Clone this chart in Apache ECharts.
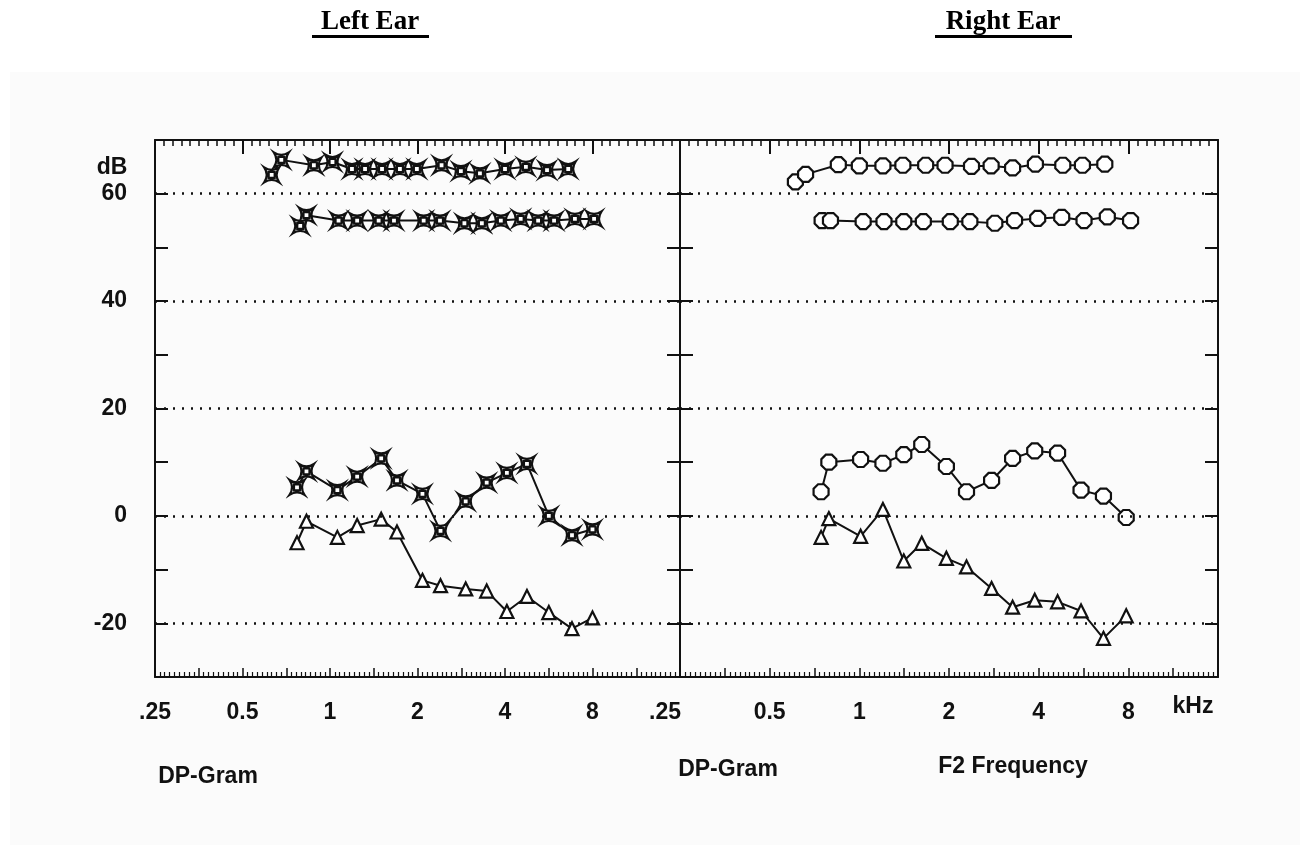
<!DOCTYPE html>
<html>
<head>
<meta charset="utf-8">
<script src="https://cdn.jsdelivr.net/npm/echarts@6/dist/echarts.min.js"></script>
<style>html,body{margin:0;padding:0;background:#fff}#main{width:1308px;height:867px}</style>
</head>
<body>
<div id="main"></div>
<script>
// 刻度
var yTicks = [60, 40, 20, 0, -20];
var xTickValues = [0.25, 0.5, 1, 2, 4, 8];
var xTickLabels = ['.25', '0.5', '1', '2', '4', '8'];

// Left ear (kHz / dB)
var leftL1Freq = [0.63, 0.68, 0.88, 1.02, 1.19, 1.32, 1.51, 1.74, 1.99, 2.42, 2.82, 3.28, 4.0, 4.72, 5.58, 6.6];
var leftL1 = [63.5, 66.3, 65.3, 65.9, 64.6, 64.6, 64.6, 64.6, 64.6, 65.3, 64.2, 63.8, 64.6, 65, 64.4, 64.6];
var leftL2Freq = [0.79, 0.83, 1.07, 1.24, 1.47, 1.66, 2.1, 2.39, 2.9, 3.33, 3.87, 4.53, 5.2, 5.9, 6.96, 8.1];
var leftL2 = [54, 56, 55, 55, 55, 55, 55, 55, 54.5, 54.5, 55, 55.3, 55, 55, 55.3, 55.3];
var leftDPFreq = [0.77, 0.83, 1.06, 1.24, 1.5, 1.7, 2.08, 2.4, 2.93, 3.46, 4.06, 4.76, 5.66, 6.8, 8.0];
var leftDP = [5.3, 8.3, 4.8, 7.3, 10.7, 6.6, 4.1, -2.8, 2.7, 6.2, 8.0, 9.7, 0, -3.6, -2.5];
var leftNF = [-5, -1, -4, -1.8, -0.6, -3, -12, -13, -13.6, -14, -17.8, -15, -18, -21, -19];

// Right ear
var rightL1Freq = [0.61, 0.66, 0.85, 1.0, 1.2, 1.4, 1.67, 1.94, 2.38, 2.77, 3.27, 3.9, 4.82, 5.61, 6.67];
var rightL1 = [62.2, 63.6, 65.4, 65.2, 65.2, 65.3, 65.3, 65.3, 65.1, 65.2, 64.8, 65.5, 65.3, 65.3, 65.5];
var rightL2Freq = [0.75, 0.8, 1.03, 1.21, 1.41, 1.64, 2.02, 2.35, 2.85, 3.32, 3.97, 4.78, 5.68, 6.8, 8.14];
var rightL2 = [55, 55, 54.8, 54.8, 54.8, 54.8, 54.8, 54.8, 54.5, 55, 55.4, 55.6, 55, 55.7, 55];
var rightDPFreq = [0.744, 0.79, 1.01, 1.2, 1.41, 1.62, 1.96, 2.29, 2.78, 3.27, 3.88, 4.63, 5.55, 6.6, 7.87];
var rightDP = [4.5, 10, 10.5, 9.8, 11.4, 13.3, 9.2, 4.5, 6.6, 10.7, 12.1, 11.7, 4.8, 3.7, -0.3];
var rightNF = [-4.0, -0.5, -3.8, 1.2, -8.4, -5.1, -7.9, -9.5, -13.5, -17, -15.7, -16, -17.7, -22.8, -18.6];

var FONT = "'Liberation Sans Narrow','Liberation Sans',Arial,sans-serif";
var FS = 23;
var INK = '#111';
var starSq = 'path://M0,0Q5,3.4 10,0Q6.6,5 10,10Q5,6.6 0,10Q3.4,5 0,0ZM3,3H7V7H3Z';
var octo = 'path://M3,0H7L10,3V7L7,10H3L0,7V3Z';

function pairs(f, v) {
	return f.map(function (x, i) { return [x, v[i]]; });
}

function xLabel(shiftFirst) {
	return {
		margin: 24,
		fontSize: FS, fontWeight: 'bold', fontFamily: FONT, color: INK,
		formatter: function (v) {
			for (var i = 0; i < xTickValues.length; i++) {
				if (Math.abs(xTickValues[i] - v) < 1e-6) {
					if (i === 0 && shiftFirst) return '{s|' + xTickLabels[i] + '}';
					return xTickLabels[i];
				}
			}
			return '';
		},
		rich: { s: { fontSize: FS, fontWeight: 'bold', fontFamily: FONT, color: INK, padding: [0, 30, 0, 0] } }
	};
}

function xAxes(g) {
	var line = { onZero: false, lineStyle: { color: INK, width: 2 } };
	return [
		// 数据用对数轴
		{ type: 'log', logBase: 2, min: 0.25, max: 16, gridIndex: g, position: 'bottom',
		  axisLine: line, axisTick: { show: false }, splitLine: { show: false },
		  axisLabel: xLabel(g === 1) },
		// 上方刻度
		{ type: 'value', min: -2, max: 4, interval: 1, gridIndex: g, position: 'top',
		  axisLine: line, axisLabel: { show: false }, splitLine: { show: false },
		  axisTick: { inside: true, length: 14, lineStyle: { color: INK, width: 2 } },
		  minorTick: { show: true, splitNumber: 10, length: 6, lineStyle: { color: INK, width: 1.5 } } },
		// 下方刻度
		{ type: 'value', min: -2, max: 4, interval: 0.5, gridIndex: g, position: 'bottom',
		  axisLine: { show: false, onZero: false }, axisLabel: { show: false }, splitLine: { show: false },
		  axisTick: { inside: true, length: 9, lineStyle: { color: INK, width: 1.5 } },
		  minorTick: { show: true, splitNumber: 9, length: 5, lineStyle: { color: INK, width: 1.2 } } }
	];
}

function yAxes(g) {
	var base = {
		type: 'value', min: -30, max: 70, interval: 10, gridIndex: g,
		axisLine: { show: true, onZero: false, lineStyle: { color: INK, width: 2 } },
		axisTick: { show: true, inside: true, length: 13, lineStyle: { color: INK, width: 2 } },
		splitLine: { show: false }
	};
	var left = Object.assign({}, base, { position: 'left',
		axisLabel: g === 0 ? {
			margin: 28, fontSize: FS, fontWeight: 'bold', fontFamily: FONT, color: INK,
			formatter: function (v) { return yTicks.indexOf(v) >= 0 ? String(v) : ''; }
		} : { show: false } });
	var right = Object.assign({}, base, { position: 'right', axisLabel: { show: false } });
	return [left, right];
}

var gridLines = {
	silent: true, symbol: 'none', label: { show: false },
	lineStyle: { color: INK, type: [2, 7], width: 2.5 },
	emphasis: { disabled: true },
	data: yTicks.map(function (v) { return { yAxis: v }; })
};

function line(name, data, xi, yi, symbol, size, withGrid) {
	var s = {
		name: name, type: 'line', xAxisIndex: xi, yAxisIndex: yi,
		data: data, symbol: symbol, symbolSize: size, showAllSymbol: true,
		lineStyle: { color: INK, width: 2 },
		itemStyle: { color: '#fff', borderColor: INK, borderWidth: 2.2 },
		emphasis: { disabled: true }
	};
	if (withGrid) s.markLine = gridLines;
	return s;
}

var myChart = echarts.init(document.getElementById('main'));
var option = {
	backgroundColor: '#fff',
	animation: false,
	grid: [
		{ left: 155, top: 140, width: 525, height: 537 },
		{ left: 680, top: 140, width: 538, height: 537 }
	],
	xAxis: xAxes(0).concat(xAxes(1)),
	yAxis: yAxes(0).concat(yAxes(1)),
	series: [
		line('L1 left', pairs(leftL1Freq, leftL1), 0, 0, starSq, 15, true),
		line('L2 left', pairs(leftL2Freq, leftL2), 0, 0, starSq, 15, false),
		line('DP left', pairs(leftDPFreq, leftDP), 0, 0, starSq, 15, false),
		line('NF left', pairs(leftDPFreq, leftNF), 0, 0, 'triangle', 13, false),
		line('L1 right', pairs(rightL1Freq, rightL1), 3, 2, octo, 15, true),
		line('L2 right', pairs(rightL2Freq, rightL2), 3, 2, octo, 15, false),
		line('DP right', pairs(rightDPFreq, rightDP), 3, 2, octo, 15, false),
		line('NF right', pairs(rightDPFreq, rightNF), 3, 2, 'triangle', 13, false)
	],
	graphic: [
		{ type: 'rect', z: -10, shape: { x: 10, y: 72, width: 1290, height: 773 }, style: { fill: '#fbfbfb' } },
		{ type: 'text', style: { text: 'Left Ear', x: 370, y: 22, textAlign: 'center', textVerticalAlign: 'middle',
			font: "bold 27px 'Liberation Serif','Times New Roman',serif", fill: '#000' } },
		{ type: 'rect', shape: { x: 312, y: 35, width: 117, height: 3 }, style: { fill: '#000' } },
		{ type: 'text', style: { text: 'Right Ear', x: 1003, y: 22, textAlign: 'center', textVerticalAlign: 'middle',
			font: "bold 27px 'Liberation Serif','Times New Roman',serif", fill: '#000' } },
		{ type: 'rect', shape: { x: 935, y: 35, width: 137, height: 3 }, style: { fill: '#000' } },
		{ type: 'text', style: { text: 'dB', x: 112, y: 168, textAlign: 'center', textVerticalAlign: 'middle',
			font: 'bold ' + FS + 'px ' + FONT, fill: INK } },
		{ type: 'text', style: { text: 'kHz', x: 1193, y: 707, textAlign: 'center', textVerticalAlign: 'middle',
			font: 'bold ' + FS + 'px ' + FONT, fill: INK } },
		{ type: 'text', style: { text: 'DP-Gram', x: 208, y: 777, textAlign: 'center', textVerticalAlign: 'middle',
			font: 'bold ' + FS + 'px ' + FONT, fill: INK } },
		{ type: 'text', style: { text: 'DP-Gram', x: 728, y: 770, textAlign: 'center', textVerticalAlign: 'middle',
			font: 'bold ' + FS + 'px ' + FONT, fill: INK } },
		{ type: 'text', style: { text: 'F2 Frequency', x: 1013, y: 767, textAlign: 'center', textVerticalAlign: 'middle',
			font: 'bold ' + FS + 'px ' + FONT, fill: INK } }
	]
};
myChart.setOption(option);
</script>
</body>
</html>
